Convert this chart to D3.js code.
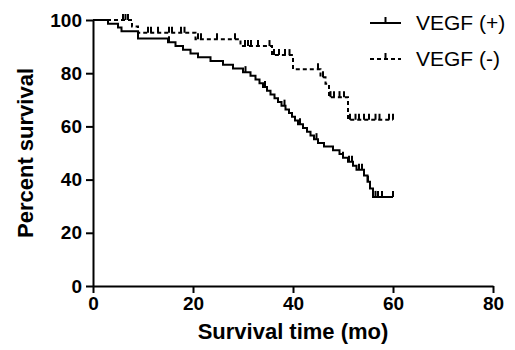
<!DOCTYPE html>
<html>
<head>
<meta charset="utf-8">
<script src="https://cdn.jsdelivr.net/npm/d3@7"></script>
<style>
  html, body { margin: 0; padding: 0; background: #fff; }
  svg { display: block; font-family: Arial, "Liberation Sans", sans-serif; }
  .axis text { font-weight: bold; font-size: 19px; fill: #000; }
  .axis path, .axis line { stroke: #000; stroke-width: 2; }
</style>
</head>
<body>
<div id="chart"></div>
<script>
// VEGF (+) step points: time (mo) and percent survival
const posTimes = [0, 3, 5, 5.7, 9, 15, 16.5, 18, 19.5, 21, 23.5, 26, 28, 30, 31.5, 32.5, 33.3, 34,
  34.8, 35.5, 36.3, 37, 37.7, 38.5, 39.2, 39.8, 40.4, 41, 42, 42.8, 43.5, 44.2, 45, 46.2, 48,
  49.3, 50, 51, 52, 52.7, 54.2, 54.9, 55.4, 56];
const posSurvival = [100, 98.6, 97.2, 95.8, 93.0, 91.6, 90.2, 88.8, 87.4, 86.0, 84.6, 83.2, 81.8, 80.4,
  79.0, 77.6, 76.2, 74.8, 73.4, 72.0, 70.6, 69.2, 67.8, 66.4, 65.0, 63.6, 62.2, 60.8, 59.4, 58.0,
  56.6, 55.2, 53.8, 52.4, 51.0, 49.6, 48.2, 46.7, 45.2, 43.7, 41.5, 39.2, 36.7, 33.5];
const posCensored = [15.2, 30.5, 34.4, 38.3, 41.4, 44.7, 50, 51.2, 51.8, 53.2, 53.8, 55, 56.5, 57, 57.8, 60];

// VEGF (-) step points
const negTimes = [0, 7.8, 9, 20.5, 29.5, 35.8, 40, 45.5, 46.5, 47.2, 51];
const negSurvival = [100, 97.6, 95.2, 92.8, 90.2, 86.8, 81.5, 78.5, 76, 71, 62.5];
const negCensored = [6, 6.5, 7, 11, 11.6, 13, 15.2, 15.8, 17.6, 18.3, 21, 21.6, 24.8, 28.4, 30.4, 31,
  31.6, 33, 35.3, 36.2, 37.2, 38.4, 39.3, 45, 46, 47.5, 48.2, 49.3, 50.2, 51.4, 52.5, 53.2, 54.2,
  55.2, 56.5, 57.3, 59.2, 60];

const followUpEnd = 60;
const xTicks = [0, 20, 40, 60, 80];
const yTicks = [0, 20, 40, 60, 80, 100];
const seriesNames = ['VEGF (+)', 'VEGF (-)'];

const width = 515, height = 350;
const margin = {top: 20, right: 22, bottom: 64, left: 93};

const svg = d3.select('#chart').append('svg')
  .attr('width', width)
  .attr('height', height);

const x = d3.scaleLinear().domain([0, 80]).range([margin.left, width - margin.right]);
const y = d3.scaleLinear().domain([0, 100]).range([height - margin.bottom, margin.top]);

// axes
svg.append('g')
  .attr('class', 'x axis')
  .attr('transform', 'translate(0,' + y(0) + ')')
  .call(d3.axisBottom(x).tickValues(xTicks).tickSize(7).tickSizeOuter(0).tickPadding(4));

svg.append('g')
  .attr('class', 'y axis')
  .attr('transform', 'translate(' + x(0) + ',0)')
  .call(d3.axisLeft(y).tickValues(yTicks).tickSize(7).tickSizeOuter(0).tickPadding(4));

// axis titles
svg.append('text')
  .attr('x', (x(0) + x(80)) / 2)
  .attr('y', 339)
  .attr('text-anchor', 'middle')
  .style('font-weight', 'bold')
  .style('font-size', '22px')
  .text('Survival time (mo)');

svg.append('text')
  .attr('transform', 'translate(25,' + ((y(0) + y(100)) / 2) + ') rotate(-90)')
  .attr('dy', '0.35em')
  .attr('text-anchor', 'middle')
  .style('font-weight', 'bold')
  .style('font-size', '22px')
  .text('Percent survival');

// step curves
function stepPoints(times, surv) {
  const pts = times.map((t, i) => [t, surv[i]]);
  pts.push([followUpEnd, surv[surv.length - 1]]);
  return pts;
}
function survivalAt(times, surv, t) {
  let s = surv[0];
  times.forEach((tt, i) => { if (tt <= t) { s = surv[i]; } });
  return s;
}

const line = d3.line()
  .x(d => x(d[0]))
  .y(d => y(d[1]))
  .curve(d3.curveStepAfter);

const series = [
  {times: posTimes, surv: posSurvival, censored: posCensored, dash: null},
  {times: negTimes, surv: negSurvival, censored: negCensored, dash: '4,3'}
];

series.forEach((s) => {
  svg.append('path')
    .datum(stepPoints(s.times, s.surv))
    .attr('d', line)
    .attr('fill', 'none')
    .attr('stroke', '#000')
    .attr('stroke-width', 2)
    .attr('stroke-dasharray', s.dash);

  svg.selectAll(null)
    .data(s.censored)
    .enter()
    .append('line')
    .attr('x1', t => x(t))
    .attr('x2', t => x(t))
    .attr('y1', t => y(survivalAt(s.times, s.surv, t)))
    .attr('y2', t => y(survivalAt(s.times, s.surv, t)) - 6)
    .attr('stroke', '#000')
    .attr('stroke-width', 2);
});

// legend
const legend = svg.append('g').attr('class', 'legend');
seriesNames.forEach((name, i) => {
  const ly = 23 + i * 36;
  legend.append('line')
    .attr('x1', 370).attr('x2', 401)
    .attr('y1', ly).attr('y2', ly)
    .attr('stroke', '#000')
    .attr('stroke-width', 2)
    .attr('stroke-dasharray', series[i].dash);
  legend.append('line')
    .attr('x1', 385.5).attr('x2', 385.5)
    .attr('y1', ly).attr('y2', ly - 6)
    .attr('stroke', '#000')
    .attr('stroke-width', 2);
  legend.append('text')
    .attr('x', 416)
    .attr('y', ly)
    .attr('dy', '0.35em')
    .style('font-size', '21px')
    .text(name);
});
</script>
</body>
</html>
